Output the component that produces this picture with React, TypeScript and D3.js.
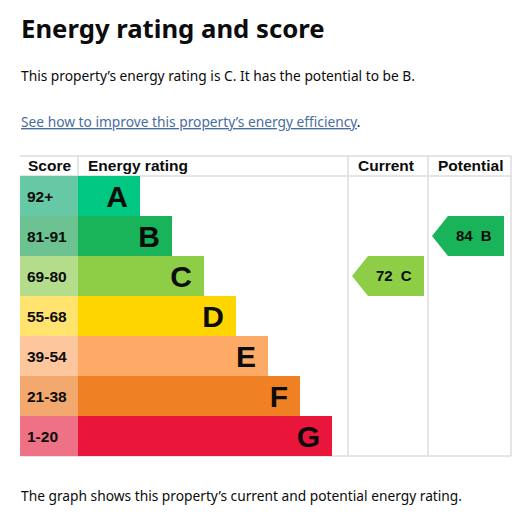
import React from 'react';
import * as d3 from 'd3';

const bands = ['A', 'B', 'C', 'D', 'E', 'F', 'G'];
const scoreRanges = ['92+', '81-91', '69-80', '55-68', '39-54', '21-38', '1-20'];
const bandColors = ['#00c781', '#19b459', '#8dce46', '#ffd500', '#fcaa65', '#ef8023', '#e9153b'];
const scoreColors = ['#66c8a4', '#6cc291', '#b3dd8a', '#ffe36e', '#fdc69d', '#f3a96e', '#ef7186'];
const columns = ['Score', 'Energy rating', 'Current', 'Potential'];
const currentRating = { score: 72, band: 'C' };
const potentialRating = { score: 84, band: 'B' };

const W = 521;
const H = 515;
const tableLeft = 20;
const tableTop = 156;
const headerH = 20;
const colEdges = [20, 78, 348, 428, 511];
const gridColor = '#dcdcdc';
const gdsFont = '"Noto Sans", Arial, sans-serif';
const tableFont = '"Liberation Sans", Arial, sans-serif';

const Arrow: React.FC<{ rating: { score: number; band: string }; col: number; y: d3.ScaleBand<string> }> = ({ rating, col, y }) => {
  const i = bands.indexOf(rating.band);
  const top = y(rating.band) as number;
  const h = y.bandwidth();
  const x0 = colEdges[col] + 4;
  const x1 = x0 + 72;
  const notch = 16;
  const pts = [
    [x0, top + h / 2],
    [x0 + notch, top],
    [x1, top],
    [x1, top + h],
    [x0 + notch, top + h],
  ];
  return (
    <g>
      <polygon points={pts.map(p => p.join(',')).join(' ')} fill={bandColors[i]} />
      <text x={x0 + 24} y={top + h / 2 + 5} fontFamily={tableFont} fontWeight="bold" fontSize={15} fill="#0b0c0c">
        {rating.score}
        <tspan dx={8}>{rating.band}</tspan>
      </text>
    </g>
  );
};

export default function App() {
  const y = d3.scaleBand<string>()
    .domain(bands)
    .range([tableTop + headerH, tableTop + headerH + 40 * bands.length])
    .paddingInner(0);

  // bar end grows with each band step
  const barEnd = d3.scaleLinear().domain([0, bands.length - 1]).range([140, 332]);
  const bottom = y.range()[1];

  return (
    <svg width={W} height={H} style={{ position: 'absolute', left: 0, top: 0, background: '#fff' }}>
      <text x={21} y={38} fontFamily={gdsFont} fontWeight="bold" fontSize={25.7} fill="#0b0c0c">
        Energy rating and score
      </text>
      <text x={21} y={81} fontFamily={gdsFont} fontSize={13.75} fill="#0b0c0c">
        This property’s energy rating is C. It has the potential to be B.
      </text>
      <text x={21} y={127} fontFamily={gdsFont} fontSize={13.75} fill="#0b0c0c">
        <tspan fill="#4a6d9f" textDecoration="underline">See how to improve this property’s energy efficiency</tspan>.
      </text>

      {/* header */}
      <line x1={tableLeft} x2={colEdges[4]} y1={tableTop} y2={tableTop} stroke={gridColor} strokeWidth={1.5} />
      <line x1={tableLeft} x2={colEdges[4]} y1={tableTop + headerH} y2={tableTop + headerH} stroke={gridColor} strokeWidth={1.5} />
      <line x1={colEdges[1]} x2={colEdges[1]} y1={tableTop} y2={tableTop + headerH} stroke={gridColor} strokeWidth={1.5} />
      {[2, 3, 4].map(c => (
        <line key={c} x1={colEdges[c]} x2={colEdges[c]} y1={tableTop} y2={bottom} stroke={gridColor} strokeWidth={1.5} />
      ))}
      <line x1={tableLeft} x2={colEdges[4]} y1={bottom} y2={bottom} stroke={gridColor} strokeWidth={1.5} />
      {columns.map((c, i) => (
        <text key={c} x={colEdges[i] + (i === 0 ? 8 : 10)} y={tableTop + 15} fontFamily={tableFont} fontWeight="bold" fontSize={15.5} fill="#0b0c0c">
          {c}
        </text>
      ))}

      {/* bands */}
      {bands.map((b, i) => {
        const top = y(b) as number;
        const h = y.bandwidth();
        return (
          <g key={b}>
            <rect x={colEdges[0]} y={top} width={colEdges[1] - colEdges[0]} height={h} fill={scoreColors[i]} />
            <rect x={colEdges[1]} y={top} width={barEnd(i) - colEdges[1]} height={h} fill={bandColors[i]} />
            <text x={27} y={top + h / 2 + 5.5} fontFamily={tableFont} fontWeight="bold" fontSize={15.5} fill="#0b0c0c">
              {scoreRanges[i]}
            </text>
            <text x={barEnd(i) - 12} y={top + h / 2 + 11} textAnchor="end" fontFamily={tableFont} fontWeight="bold" fontSize={30} fill="#0b0c0c">
              {b}
            </text>
          </g>
        );
      })}

      <Arrow rating={currentRating} col={2} y={y} />
      <Arrow rating={potentialRating} col={3} y={y} />

      <text x={21} y={501} fontFamily={gdsFont} fontSize={13.75} fill="#0b0c0c">
        The graph shows this property’s current and potential energy rating.
      </text>
    </svg>
  );
}
